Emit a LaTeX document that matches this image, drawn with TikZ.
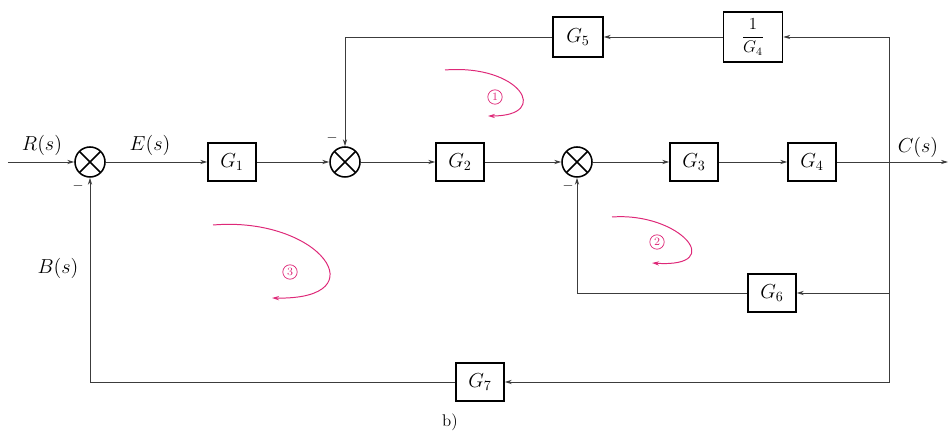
\documentclass[tikz,border=0pt]{standalone}
\usepackage{amsmath}
\usepackage{tikz}
\usetikzlibrary{arrows.meta, positioning, calc}
\definecolor{wire}{RGB}{60,60,60}
\definecolor{loopred}{RGB}{222,40,120}

\begin{document}
\begin{tikzpicture}[>={Stealth[length=5pt,width=3pt]}, font=\Large]
  \tikzstyle{block} = [rectangle, draw=black, line width=1.1pt, minimum width=1.2cm, minimum height=0.95cm, inner sep=1pt]
  \tikzstyle{summer} = [circle, draw=black, line width=1.1pt, minimum size=0.75cm, inner sep=0pt,
    path picture={\draw[line width=1.1pt] (path picture bounding box.north west) -- (path picture bounding box.south east)
      (path picture bounding box.north east) -- (path picture bounding box.south west);}]
  \tikzstyle{wire} = [draw=wire, line width=0.6pt]
  \tikzstyle{loopmark} = [loopred, line width=0.7pt]
  \tikzstyle{loopnum} = [circle, draw=loopred, text=loopred, line width=0.5pt, minimum size=0.36cm, inner sep=0pt, font=\footnotesize]

  \useasboundingbox (0,0) rectangle (23.7,10.8);

  \node [summer] (sum1) at (2.25,6.75) {};
  \node [block] (g1) at (5.8,6.75) {$G_1$};
  \node [summer] (sum2) at (8.625,6.75) {};
  \node [block] (g2) at (11.5,6.75) {$G_2$};
  \node [summer] (sum3) at (14.425,6.75) {};
  \node [block] (g3) at (17.35,6.75) {$G_3$};
  \node [block] (g4) at (20.3,6.75) {$G_4$};
  \node [block, minimum width=1.25cm, minimum height=1.0cm] (g5) at (14.45,9.875) {$G_5$};
  \node [block, minimum width=1.475cm, minimum height=1.25cm, font=\large] (ginv) at (18.825,9.875) {$\dfrac{1}{G_4}$};
  \node [block] (g6) at (19.3,3.475) {$G_6$};
  \node [block] (g7) at (12.0,1.25) {$G_7$};

  \coordinate (in) at (0.2,6.75);
  \coordinate (br) at (22.225,6.75);
  \coordinate (out) at (23.7,6.75);

  \draw[->, wire] (in) -- (sum1);
  \draw[->, wire] (sum1) -- (g1);
  \draw[->, wire] (g1) -- (sum2);
  \draw[->, wire] (sum2) -- (g2);
  \draw[->, wire] (g2) -- (sum3);
  \draw[->, wire] (sum3) -- (g3);
  \draw[->, wire] (g3) -- (g4);
  \draw[->, wire] (g4) -- (out);

  \draw[->, wire] (br) |- (ginv.east);
  \draw[->, wire] (ginv) -- (g5);
  \draw[->, wire] (g5.west) -| (sum2.north);
  \draw[->, wire] (br) |- (g6.east);
  \draw[->, wire] (g6.west) -| (sum3.south);
  \draw[->, wire] (br) |- (g7.east);
  \draw[->, wire] (g7.west) -| (sum1.south);

  \node (rs) at (1.05,7.175) {$R(s)$};
  \node (es) at (3.75,7.175) {$E(s)$};
  \node (cs) at (22.95,7.125) {$C(s)$};
  \node (bs) at (1.45,4.1) {$B(s)$};
  \node [font=\large] (cap) at (11.25,0.25) {b)};

  \node [font=\normalsize] (m1) at (1.95,6.15) {$-$};
  \node [font=\normalsize] (m2) at (8.3,7.35) {$-$};
  \node [font=\normalsize] (m3) at (14.2,6.15) {$-$};

  \draw[->, loopmark] (11.125,9.05) .. controls (13.0,9.2) and (13.8,7.9) .. (12.2,7.9);
  \node [loopnum] (l1) at (12.375,8.375) {1};
  \draw[->, loopmark] (15.3,5.375) .. controls (17.0,5.5) and (18.2,4.1) .. (16.3,4.225);
  \node [loopnum] (l2) at (16.425,4.75) {2};
  \draw[->, loopmark] (5.325,5.175) .. controls (8.0,5.4) and (9.5,3.3) .. (6.8,3.35);
  \node [loopnum] (l3) at (7.25,4.0) {3};
\end{tikzpicture}
\end{document}
